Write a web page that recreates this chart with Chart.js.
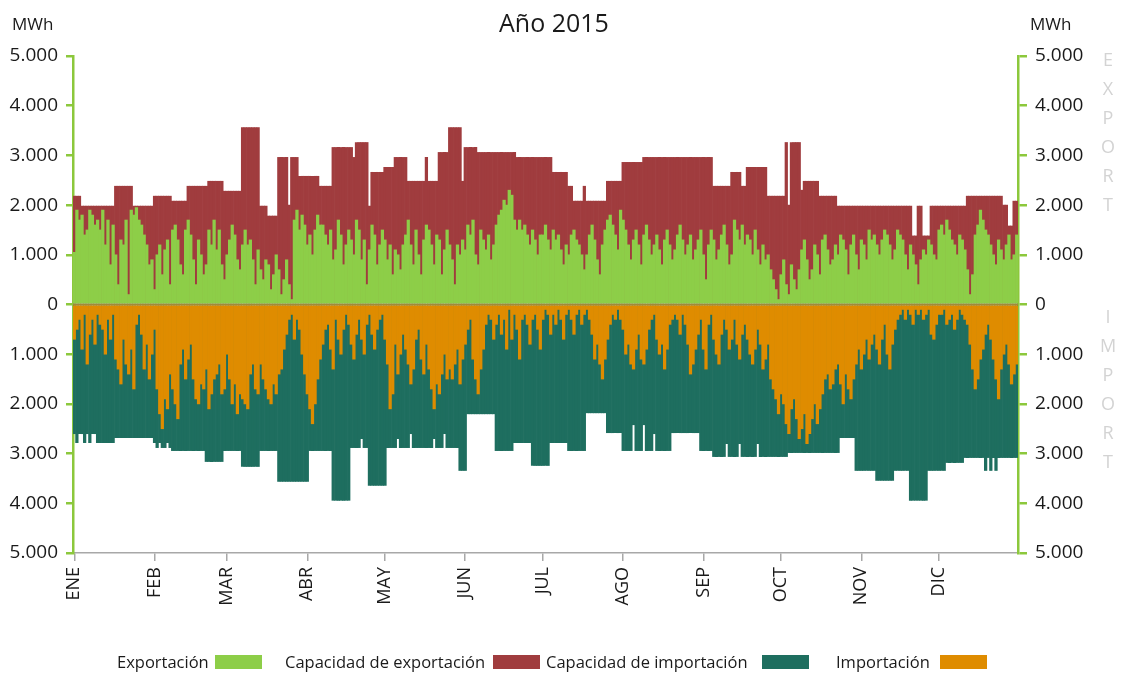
<!DOCTYPE html>
<html lang="es">
<head>
<meta charset="utf-8">
<title>Año 2015</title>
<script src="https://cdn.jsdelivr.net/npm/chart.js@4.4.1/dist/chart.umd.min.js"></script>
<style>
    body { margin: 0; background: #fff; font-family: 'Open Sans', sans-serif; color: #1a1a1a; }
    #wrap { position: relative; width: 1121px; height: 675px; }
    #wrap canvas { position: absolute; left: 0; top: 0; }
    .txt { position: absolute; white-space: nowrap; }
    .titulo { left: 454px; width: 200px; top: 5px; text-align: center; font-size: 25px; }
    .unidad { top: 12px; font-size: 17px; }
    .lado { left: 1096px; font-size: 18px; color: #d3d3d3; writing-mode: vertical-rl; text-orientation: upright; letter-spacing: 5px; }
    .ley { top: 650px; font-size: 16.5px; }
    .caja { position: absolute; top: 655px; width: 47px; height: 14px; }
</style>
</head>
<body>
<div id="wrap">
    <canvas id="flujosChart"></canvas>
    <div class="txt titulo">Año 2015</div>
    <div class="txt unidad" style="left:12px">MWh</div>
    <div class="txt unidad" style="left:1030px">MWh</div>
    <div class="txt lado" style="top:47px">EXPORT</div>
    <div class="txt lado" style="top:304px">IMPORT</div>

    <div class="txt ley" style="left:117px">Exportación</div>
    <div class="caja" style="left:215px;background:#8dce48"></div>
    <div class="txt ley" style="left:285px">Capacidad de exportación</div>
    <div class="caja" style="left:493px;background:#a03c3e"></div>
    <div class="txt ley" style="left:546px">Capacidad de importación</div>
    <div class="caja" style="left:762px;background:#1e6e5f"></div>
    <div class="txt ley" style="left:836px">Importación</div>
    <div class="caja" style="left:940px;background:#df8c00"></div>
</div>
<script>
const meses = ['ENE', 'FEB', 'MAR', 'ABR', 'MAY', 'JUN', 'JUL', 'AGO', 'SEP', 'OCT', 'NOV', 'DIC'];
const diasMes = [31, 28, 31, 30, 31, 30, 31, 31, 30, 31, 30, 31];

// MWh por día, un renglón por mes
const capExportacion = [
    [2180,2180,2180,1980,1980,1980,1980,1980,1980,1980, 1980,1980,1980,1980,1980,1980,2380,2380,2380,2380, 2380,2380,2380,1980,1980,1980,1980,1980,1980,1980, 1980],
    [2180,2180,2180,2180,2180,2180,2180,2080,2080,2080, 2080,2080,2080,2380,2380,2380,2380,2380,2380,2380, 2380,2480,2480,2480,2480,2480,2480,2280],
    [2280,2280,2280,2280,2280,2280,3560,3560,3560,3560, 3560,3560,3560,1980,1980,1980,1780,1780,1780,1780, 2960,2960,2960,2960,2000,2960,2960,2960,2580,2580, 2580],
    [2580,2580,2580,2580,2580,2380,2380,2380,2380,2380, 3160,3160,3160,3160,3160,3160,3160,3160,2960,3260, 3260,3260,3260,3260,1980,2660,2660,2660,2660,2660],
    [2760,2760,2760,2760,2960,2960,2960,2960,2960,2480, 2480,2480,2480,2480,2480,2480,2960,2480,2480,2480, 2480,3060,3060,3060,3060,3560,3560,3560,3560,3560, 2480],
    [3160,3160,3160,3160,3160,3060,3060,3060,3060,3060, 3060,3060,3060,3060,3060,3060,3060,3060,3060,3060, 2960,2960,2960,2960,2960,2960,2960,2960,2960,2960],
    [2960,2960,2960,2960,2660,2660,2660,2660,2660,2660, 2380,2380,2080,2080,2080,2080,2380,2080,2080,2080, 2080,2080,2080,2080,2080,2480,2480,2480,2480,2480, 2480],
    [2860,2860,2860,2860,2860,2860,2860,2860,2960,2960, 2960,2960,2960,2960,2960,2960,2960,2960,2960,2960, 2960,2960,2960,2960,2960,2960,2960,2960,2960,2960, 2960],
    [2960,2960,2960,2960,2380,2380,2380,2380,2380,2380, 2380,2660,2660,2660,2660,2380,2380,2760,2760,2760, 2760,2760,2760,2760,2760,2180,2180,2180,2180,2180],
    [2180,2180,3260,2000,3260,3260,3260,3260,2300,2480, 2480,2480,2480,2480,2480,2180,2180,2180,2180,2180, 2180,2180,1980,1980,1980,1980,1980,1980,1980,1980, 1980],
    [1980,1980,1980,1980,1980,1980,1980,1980,1980,1980, 1980,1980,1980,1980,1980,1980,1980,1980,1980,1980, 1380,1380,1980,1980,1380,1380,1380,1980,1980,1980],
    [1980,1980,1980,1980,1980,1980,1980,1980,1980,1980, 1980,2180,2180,2180,2180,2180,2180,2180,2180,2180, 2180,2180,2180,2180,2180,2000,2000,1580,1580,2080, 2080]
].flat();

const capImportacion = [
    [2600,2780,2600,2600,2780,2600,2780,2600,2600,2780, 2780,2780,2780,2780,2780,2780,2680,2680,2680,2680, 2680,2680,2680,2680,2680,2680,2680,2680,2680,2680, 2680],
    [2780,2880,2780,2880,2880,2780,2880,2940,2940,2940, 2940,2940,2940,2940,2940,2940,2940,2940,2940,2940, 3160,3160,3160,3160,3160,3160,3160,2940],
    [2940,2940,2940,2940,2940,2940,3260,3260,3260,3260, 3260,3260,3260,2940,2940,2940,2940,2940,2940,2940, 3560,3560,3560,3560,3560,3560,3560,3560,3560,3560, 3560],
    [3560,2940,2940,2940,2940,2940,2940,2940,2940,2940, 3940,3940,3940,3940,3940,3940,3940,2880,2880,2880, 2880,2700,2880,2880,3640,3640,3640,3640,3640,3640],
    [3640,2880,2880,2880,2880,2700,2880,2880,2880,2880, 2600,2880,2880,2880,2880,2880,2880,2880,2880,2700, 2880,2880,2880,2600,2880,2880,2880,2880,2880,3340, 3340],
    [3340,2200,2200,2200,2200,2200,2200,2200,2200,2200, 2200,2200,2940,2940,2940,2940,2940,2940,2940,2780, 2780,2780,2780,2780,2780,2780,3240,3240,3240,3240],
    [3240,3240,3240,2780,2780,2780,2780,2780,2780,2780, 2940,2940,2940,2940,2940,2940,2940,2180,2180,2180, 2180,2180,2180,2180,2180,2580,2580,2580,2580,2580, 2580],
    [2940,2940,2940,2940,2420,2940,2940,2940,2420,2940, 2940,2940,2600,2940,2940,2940,2940,2940,2940,2580, 2580,2580,2580,2580,2580,2580,2580,2580,2580,2580, 2940],
    [2940,2940,2940,2940,3060,3060,3060,3060,3060,2800, 3060,3060,3060,3060,2800,3060,3060,3060,3060,3060, 3060,2800,3060,3060,3060,3060,3060,3060,3060,3060],
    [3060,3060,3060,2980,2980,2980,2980,2980,2980,2980, 2980,2980,2980,2980,2980,2980,2980,2980,2980,2980, 2980,2980,2980,2680,2680,2680,2680,2680,2680,3340, 3340],
    [3340,3340,3340,3340,3340,3340,3540,3540,3540,3540, 3540,3540,3540,3340,3340,3340,3340,3340,3340,3940, 3940,3940,3940,3940,3940,3940,3340,3340,3340,3340],
    [3340,3340,3340,3180,3180,3180,3180,3180,3180,3180, 3080,3080,3080,3080,3080,3080,3080,3080,3340,3080, 3340,3080,3340,3080,3080,3080,3080,3080,3080,3080, 3080]
].flat();

const exportacion = [
    [1050,1900,1700,1800,1400,1500,1900,1800,1600,1700, 1500,1900,1200,1700,800,1600,1000,400,1300,1200, 1700,200,1900,1800,1950,1700,1600,1400,1200,800, 900],
    [300,1000,1200,600,1100,1300,400,1500,1600,1300, 800,600,1500,1700,1400,900,400,1300,1000,600, 800,1500,1200,1700,1100,1500,800,500],
    [1000,1300,1600,1400,900,700,1200,1500,1200,1300, 900,400,1100,700,500,900,800,300,600,1000, 700,200,500,900,400,100,1700,1900,1500,1800, 1600],
    [1200,1400,1000,1500,1800,1600,1600,1400,1200,1500, 900,1100,1700,1400,800,1200,1500,1300,1000,1700, 1500,900,1300,400,1100,1600,1400,800,1200,1500],
    [1300,900,1200,600,1100,1000,700,1200,1400,1700, 1200,800,1500,1000,600,1300,1600,1500,1200,800, 1400,1300,600,1100,1500,1200,900,400,1200,1000, 1300],
    [1100,1600,1400,1700,1000,800,1500,1300,1100,1400, 900,1200,1600,1800,1900,2100,2000,2300,2200,1700, 1500,1700,1500,1600,1400,1200,1500,1300,1000,1400],
    [1400,1600,1300,1100,1500,1300,1400,1100,800,1200, 1000,1400,1500,1300,1200,1000,700,1000,1400,1600, 1300,900,600,1200,1500,1700,1800,1600,1400,1100, 1900],
    [1700,1500,1200,900,1300,1500,1200,800,1400,1600, 1300,1000,1200,1400,1100,800,1300,1500,1200,900, 1100,1400,1600,1300,1000,1200,1400,900,1100,1300, 1500],
    [1000,500,1200,1500,1300,900,1100,1400,1600,1200, 800,1000,1700,1500,1300,1600,1200,1400,1300,1000, 1500,1100,800,1200,900,1000,700,500,300,100],
    [600,900,400,200,800,500,300,700,1100,1300, 900,500,700,1200,1000,600,1300,1400,1100,800, 900,1200,1000,1400,1300,1100,600,1200,1400,1000, 700],
    [1300,1200,900,1500,1300,1400,1200,1000,1300,1500, 1400,1200,900,1100,1500,1400,1300,1000,700,1200, 1000,800,400,900,1100,1000,1300,1200,1000,900],
    [1500,1600,1400,1700,1500,1300,1200,1000,1400,1300, 1100,700,200,600,1400,1600,1900,1700,1500,1400, 1200,1000,800,1300,1100,900,1200,1400,900,1000, 1400]
].flat();

const importacion = [
    [700,500,300,900,200,1200,600,300,800,200, 400,500,1000,300,700,200,1100,1300,1600,700, 1200,1400,900,1700,400,200,600,1300,800,1500, 1000],
    [500,1700,2200,2500,1900,2100,1400,1700,2000,2300, 1200,900,1500,1100,800,1500,1900,2000,1600,1700, 1300,2100,1800,1500,1400,1200,1800,1700],
    [1000,1500,2000,1600,2200,1800,1900,2000,2100,1400, 1200,1700,1800,1200,1500,1700,1900,2000,1600,1800, 1400,1300,900,600,300,200,700,300,500,1000, 1400],
    [1800,2100,2400,2000,1500,1100,800,500,400,900, 1300,300,700,1000,500,200,400,800,1100,600, 300,700,1000,400,200,600,900,500,300,200],
    [700,1200,2100,1800,800,1400,1000,600,900,1200, 1600,1300,700,500,1100,1400,800,1300,1700,2100, 1600,1800,1400,1000,1500,1300,1500,1200,900,1600, 1100],
    [800,500,300,1100,1500,1800,1300,900,400,200, 300,700,400,200,600,300,900,100,700,200, 500,1100,300,200,400,800,300,200,500,900],
    [300,100,200,600,200,400,100,300,700,200, 100,300,600,200,100,400,200,100,300,600, 1100,800,1200,1500,1100,700,400,200,300,100, 300],
    [500,1000,800,1200,1300,900,600,1100,1200,900, 500,300,200,700,1000,800,1300,900,400,300, 200,300,600,200,400,800,1400,1200,900,600, 300],
    [900,1300,400,200,700,1000,1200,600,300,500, 900,700,300,800,1100,600,400,700,1000,1200, 900,500,800,1300,1100,800,1500,1700,1900,2200],
    [1800,2000,2400,2600,2100,1900,2300,2700,2500,2200, 2800,2600,2300,2000,2400,2100,1800,1500,1400,1700, 1600,1300,1200,1600,2000,1400,1700,1900,1500,1200, 900],
    [1300,1000,700,1100,800,600,900,1200,700,400, 1000,1300,800,500,300,200,100,300,100,200, 400,100,200,100,300,200,100,600,700,400],
    [200,200,100,400,300,200,500,300,100,200, 300,400,800,1300,1700,1500,1100,900,600,400, 700,1100,1500,1900,1300,1000,800,1200,1600,1400, 1200]
].flat();

const colores = {
    exportacion: '#8dce48',
    capExportacion: '#a03c3e',
    capImportacion: '#1e6e5f',
    importacion: '#df8c00',
    eje: '#8cc83c'
};

// categorías: un día por barra, y el índice donde empieza cada mes
const dias = [];
const inicioMes = [];
diasMes.forEach((n, m) => {
    inicioMes.push(dias.length);
    for (let d = 1; d <= n; d++) dias.push(d + ' ' + meses[m]);
});

const miles = v => String(Math.abs(v)).replace(/\B(?=(\d{3})+(?!\d))/g, '.');
const fuente = { family: "'Open Sans', sans-serif", size: 19 };

const lineaCero = {
    id: 'lineaCero',
    afterDatasetsDraw(chart) {
        const { ctx, chartArea, scales } = chart;
        const y = scales.y.getPixelForValue(0);
        ctx.save();
        ctx.strokeStyle = '#a08a3a';
        ctx.lineWidth = 1.2;
        ctx.beginPath();
        ctx.moveTo(chartArea.left, y);
        ctx.lineTo(chartArea.right, y);
        ctx.stroke();
        ctx.restore();
    }
};

const ejeY = (posicion, ancho) => ({
    position: posicion,
    min: -5000,
    max: 5000,
    afterFit: s => { s.width = ancho; },
    ticks: { stepSize: 1000, callback: miles, color: '#1a1a1a', font: fuente, padding: 8 },
    grid: { drawOnChartArea: false, drawTicks: true, tickLength: posicion === 'left' ? 7 : 9, color: colores.eje, lineWidth: 2.5 },
    border: { color: colores.eje, width: 2.5 }
});

const barra = { grouped: false, barPercentage: 1, categoryPercentage: 1, borderWidth: 0 };

new Chart(document.getElementById('flujosChart'), {
    type: 'bar',
    data: {
        labels: dias,
        datasets: [
            { ...barra, label: 'Exportación', data: exportacion, backgroundColor: colores.exportacion, order: 0 },
            { ...barra, label: 'Importación', data: importacion.map(v => -v), backgroundColor: colores.importacion, order: 0 },
            { ...barra, label: 'Capacidad de exportación', data: capExportacion, backgroundColor: colores.capExportacion, order: 1 },
            { ...barra, label: 'Capacidad de importación', data: capImportacion.map(v => -v), backgroundColor: colores.capImportacion, order: 1 }
        ]
    },
    options: {
        responsive: true,
        maintainAspectRatio: false,
        animation: false,
        layout: { padding: { top: 56, bottom: 52, left: 0, right: 0 } },
        plugins: { legend: { display: false }, tooltip: { enabled: false }, title: { display: false } },
        scales: {
            x: {
                offset: true,
                afterFit: s => { s.height = 70; },
                afterBuildTicks: s => { s.ticks = inicioMes.map(i => ({ value: i })); },
                ticks: {
                    autoSkip: false,
                    minRotation: 90,
                    maxRotation: 90,
                    padding: 6,
                    color: '#1a1a1a',
                    font: { family: "'Open Sans', sans-serif", size: 18 },
                    callback: v => meses[inicioMes.indexOf(v)] || ''
                },
                grid: { offset: false, drawOnChartArea: false, drawTicks: true, tickLength: 8, color: '#a8a8a8', lineWidth: 1.5 },
                border: { color: '#a8a8a8', width: 1.5 }
            },
            y: ejeY('left', 73),
            y2: ejeY('right', 103)
        }
    },
    plugins: [lineaCero]
});
</script>
</body>
</html>
